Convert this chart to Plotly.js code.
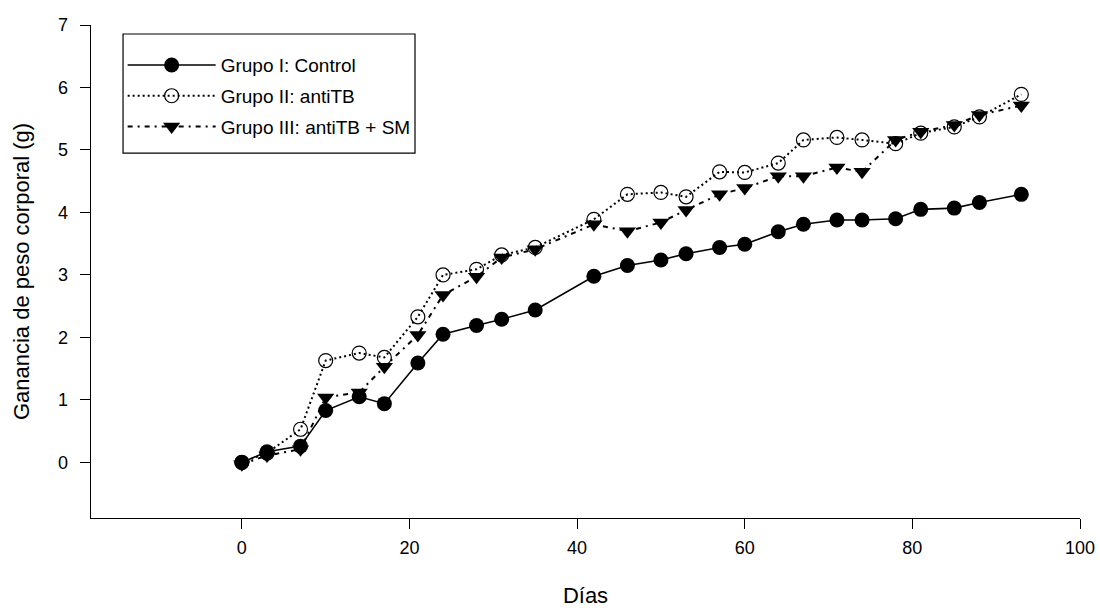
<!DOCTYPE html>
<html>
<head>
<meta charset="utf-8">
<script src="https://cdn.plot.ly/plotly-3.0.1.min.js"></script>
<style>html,body{margin:0;padding:0;background:#fff;}#chart{width:1100px;height:615px;}</style>
</head>
<body>
<div id="chart"></div>
<script>
const dias = [0, 3, 7, 10, 14, 17, 21, 24, 28, 31, 35, 42, 46, 50, 53, 57, 60, 64, 67, 71, 74, 78, 81, 85, 88, 93];
const grupoI = [0.0, 0.17, 0.26, 0.83, 1.05, 0.94, 1.59, 2.05, 2.19, 2.29, 2.44, 2.98, 3.15, 3.24, 3.34, 3.44, 3.49, 3.69, 3.81, 3.88, 3.88, 3.9, 4.05, 4.07, 4.16, 4.29];
const grupoII = [0.0, 0.15, 0.53, 1.63, 1.75, 1.68, 2.33, 3.0, 3.09, 3.32, 3.44, 3.89, 4.29, 4.32, 4.25, 4.65, 4.64, 4.79, 5.16, 5.2, 5.16, 5.1, 5.27, 5.37, 5.53, 5.89];
const grupoIII = [-0.03, 0.11, 0.21, 1.04, 1.12, 1.53, 2.04, 2.68, 2.97, 3.28, 3.41, 3.81, 3.7, 3.84, 4.04, 4.29, 4.39, 4.58, 4.58, 4.72, 4.65, 5.16, 5.29, 5.4, 5.56, 5.71];
const nombres = ["Grupo I: Control", "Grupo II: antiTB", "Grupo III: antiTB + SM"];
const xTicks = [0, 20, 40, 60, 80, 100];
const yTicks = [0, 1, 2, 3, 4, 5, 6, 7];

const font = "Liberation Sans, Arial, sans-serif";
const traces = [
  {x: dias, y: grupoI, name: nombres[0], mode: "lines+markers", legendgroup: "g1",
   line: {color: "#000", width: 1.6},
   marker: {symbol: "circle", size: 15, color: "#000"}},
  {x: dias, y: grupoII, name: nombres[1], mode: "lines+markers", legendgroup: "g2",
   line: {color: "#000", width: 2, dash: "2px,3px"},
   marker: {symbol: "circle-open", size: 14, color: "#000", line: {width: 1.2, color: "#000"}}},
  {x: dias, y: grupoIII, name: nombres[2], mode: "lines+markers", legendgroup: "g3",
   line: {color: "#000", width: 2, dash: "5px,5px,2px,5px"},
   marker: {symbol: "triangle-down", size: 15, color: "#000"}}
];
const layout = {
  width: 1100, height: 615,
  margin: {l: 91, r: 20, t: 25, b: 97, pad: 0},
  paper_bgcolor: "#fff", plot_bgcolor: "#fff",
  font: {family: font, color: "#000", size: 18},
  showlegend: true,
  legend: {x: 0.032, y: 0.957, xanchor: "left", yanchor: "top",
    borderwidth: 0, bgcolor: "rgba(0,0,0,0)",
    font: {family: font, size: 19, color: "#000"},
    traceorder: "grouped", itemwidth: 88, tracegroupgap: 3},
  shapes: [{type: "rect", xref: "paper", yref: "paper", x0: 0.0324, x1: 0.3276, y0: 0.740, y1: 0.9817,
    line: {color: "#000", width: 1.2}, fillcolor: "rgba(0,0,0,0)", layer: "below"}],
  xaxis: {range: [-18, 100], tickvals: xTicks, ticktext: xTicks.map(String),
    showgrid: false, zeroline: false, showline: true, linecolor: "#000", linewidth: 1.3,
    ticks: "outside", ticklen: 10, tickcolor: "#000", tickwidth: 1, ticklabelstandoff: 3,
    tickfont: {family: font, size: 18},
    title: {text: "Días", font: {family: font, size: 22}, standoff: 30}, automargin: false},
  yaxis: {range: [-0.89, 7], tickvals: yTicks, ticktext: yTicks.map(String),
    showgrid: false, zeroline: false, showline: true, linecolor: "#000", linewidth: 1.3,
    ticks: "outside", ticklen: 10, tickcolor: "#000", tickwidth: 1, ticklabelstandoff: 8,
    tickfont: {family: font, size: 18},
    title: {text: "Ganancia de peso corporal (g)", font: {family: font, size: 22}, standoff: 22}, automargin: false}
};
Plotly.newPlot("chart", traces, layout, {displayModeBar: false, staticPlot: true});
</script>
</body>
</html>
